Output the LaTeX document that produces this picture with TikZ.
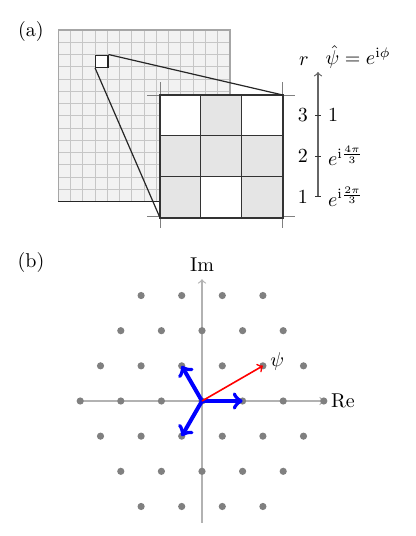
\documentclass[tikz,border=0pt]{standalone}
\usepackage{amsmath}
\usetikzlibrary{arrows,calc,positioning}

\begin{document}
\begin{tikzpicture}[x=0.5pt, y=-0.5pt,
    finegrid/.style={gray!45, line width=0.5pt},
    coarse/.style={black!80, line width=0.8pt},
    guide/.style={gray, line width=0.5pt},
    cell/.style={fill=gray!20},
    zoomline/.style={black!85, line width=0.6pt},
    raxis/.style={->, black!60, line width=0.6pt},
    axisline/.style={->, gray!60, line width=0.6pt},
    latticept/.style={fill=gray},
    basis/.style={->, blue, line width=2pt},
    field/.style={->, red, line width=0.8pt}
]
    \useasboundingbox (0,0) rectangle (416,536);

    % (a) lattice and zoomed unit cell
    \node (labela) at (31,31) {(a)};
    \fill[gray!10] (58.3,30) rectangle (229.8,201.5);
    \foreach \i in {1,...,13}{
        \draw[finegrid] (58.3+\i*12.25,30) -- (58.3+\i*12.25,201.5);
        \draw[finegrid] (58.3,30+\i*12.25) -- (229.8,30+\i*12.25);
    }
    \draw[gray!70, line width=0.8pt] (58.3,201.5) -- (58.3,30) -- (229.8,30) -- (229.8,201.5);
    \draw[black!85, line width=0.8pt] (58.3,201.5) -- (229.8,201.5);
    \node[draw, zoomline, fill=white, minimum size=6.125pt, inner sep=0pt, anchor=north west] (small) at (95.05,54.5) {};

    \draw[guide] (160,82) -- (160,228);
    \draw[guide] (282,82) -- (282,228);
    \draw[guide] (147,95) -- (295,95);
    \draw[guide] (147,216) -- (295,216);
    \node[fill=white, minimum size=61pt, inner sep=0pt, anchor=north west] (zoom) at (160,95) {};
    \foreach \c/\r in {1/0,0/1,1/1,2/1,0/2,2/2}
        \fill[cell] (160+\c*40.67,95+\r*40.67) rectangle ++(40.67,40.67);
    \foreach \i in {1,2}{
        \draw[coarse] (160+\i*40.67,95) -- (160+\i*40.67,217);
        \draw[coarse] (160,95+\i*40.67) -- (282,95+\i*40.67);
    }
    \draw[coarse] (zoom.north west) rectangle (zoom.south east);
    \draw[zoomline] (small.north east) -- (zoom.north east);
    \draw[zoomline] (small.south west) -- (zoom.south west);

    % phase axis
    \coordinate (rbot) at (318,196.6);
    \coordinate (rtop) at (318,72);
    \draw[raxis] (rbot) -- (rtop);
    \node (rlabel) at (304,61) {$r$};
    \node (phase) at (358,57) {$\hat{\psi}=e^{\mathrm{i}\phi}$};
    \foreach \y/\n/\v in {196.6/1/{e^{\mathrm{i}\frac{2\pi}{3}}}, 155.9/2/{e^{\mathrm{i}\frac{4\pi}{3}}}, 115.3/3/1}{
        \draw[black!80] (315,\y) -- (321,\y);
        \node[left] (tick\n) at (315,\y) {$\n$};
        \node[right] (val\n) at (321,\y) {$\v$};
    }

    % (b) triangular lattice in the complex plane
    \node (labelb) at (31,262) {(b)};
    \begin{scope}[shift={(202,401)}, x=20.3pt, y=20.3pt]
        \coordinate (O) at (0,0);
        \coordinate (rel) at (-3,0);
        \coordinate (rer) at (3,0);
        \coordinate (imb) at (0,-3);
        \coordinate (imt) at (0,3);
        \draw[axisline] (rel) -- (rer) node[right, text=black] (re) {Re};
        \draw[axisline] (imb) -- (imt) node[above, text=black] (im) {Im};
        \foreach \j in {-3,...,3}{
            \foreach \i in {-3,...,3}{
                \pgfmathtruncatemacro{\d}{max(abs(\i),abs(\j),abs(\i+\j))}
                \ifnum\d<4 \fill[latticept] (\i+0.5*\j,0.866*\j) circle (1.8pt); \fi
            }
        }
        \coordinate (b1) at (0:1);
        \coordinate (b2) at (120:1);
        \coordinate (b3) at (240:1);
        \coordinate (psi) at (1.5,0.866);
        \draw[basis] (O) -- (b1);
        \draw[basis] (O) -- (b2);
        \draw[basis] (O) -- (b3);
        \draw[field] (O) -- (psi) node[right, yshift=2pt, text=black] (psilabel) {$\psi$};
    \end{scope}
\end{tikzpicture}
\end{document}
